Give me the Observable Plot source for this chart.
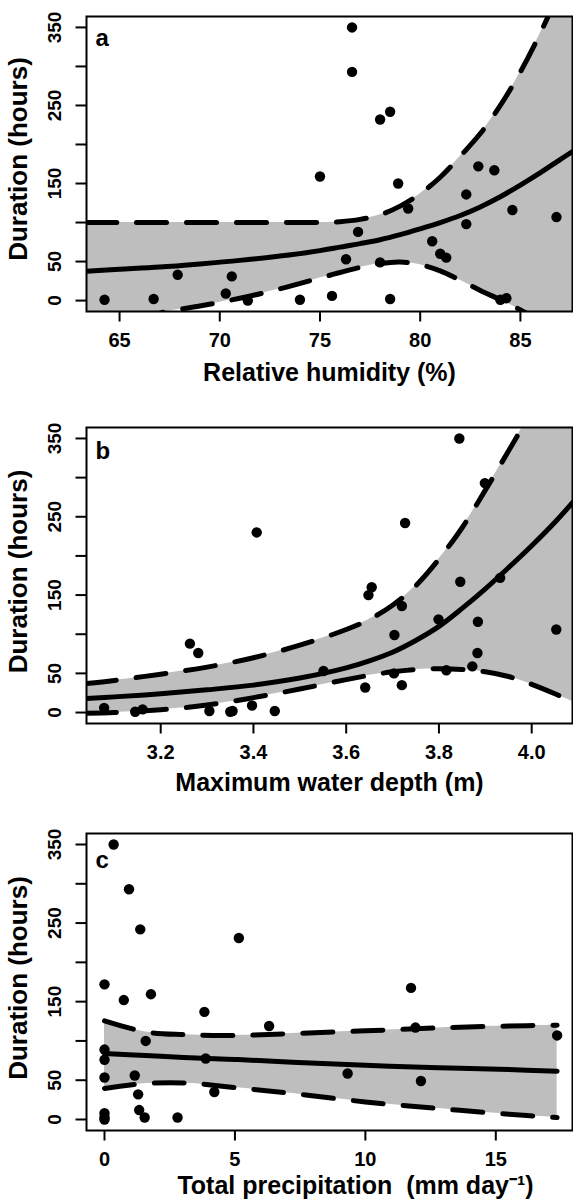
<!DOCTYPE html>
<html>
<head>
<meta charset="utf-8">
<script src="https://cdn.jsdelivr.net/npm/d3@7"></script>
<script src="https://cdn.jsdelivr.net/npm/@observablehq/plot@0.6"></script>
<style>
  html, body { margin: 0; padding: 0; background: #fff; }
  #chart { width: 573px; }
  #chart svg { display: block; }
  #chart [aria-label="x-axis tick"], #chart [aria-label="y-axis tick"] { stroke-width: 2px; }
  #chart [aria-label="x-axis"] .tick line, #chart [aria-label="y-axis"] .tick line { stroke-width: 2px; }
</style>
</head>
<body>
<div id="chart"></div>
<script>
// ---------- shared y axis ----------
const yTicks = [0, 50, 100, 150, 200, 250, 300, 350];
const yTickLabels = [0, 50, 150, 250, 350];
const yTitle = "Duration (hours)";

// ---------- panel a : relative humidity ----------
const rhTicks = [65, 70, 75, 80, 85];
const rhX = [64.25, 66.7, 67.9, 70.3, 70.6, 71.4, 74.0, 75.0, 75.6, 76.3, 76.6, 76.6, 76.9, 78.0, 78.0, 78.5, 78.5, 78.9, 79.4, 80.6, 81.0, 81.3, 82.3, 82.3, 82.9, 83.7, 84.0, 84.3, 84.6, 86.8];
const rhDur = [1, 2, 33, 9, 31, 0, 1, 159, 6, 53, 350, 293, 88, 232, 49, 242, 2, 150, 118, 76, 60, 55, 136, 98, 172, 167, 1, 3, 116, 107];
const rhCurveX = [63.35, 65, 67, 69, 71, 73, 75, 76, 77, 78, 79, 80, 81, 82, 83, 84, 85, 86, 87, 87.6];
const rhFit    = [37.5, 40, 43, 47, 51.5, 57, 64, 68.5, 73, 78, 84.5, 92, 100, 109, 120, 133, 148, 164, 181, 191];
const rhUpper  = [100, 100, 100, 100, 100, 100, 100, 101, 104, 110, 121, 137, 158, 185, 214, 250, 293, 343, 400, 437];
const rhLower  = [-45, -32, -16, -7, 3, 15, 29, 36, 42.5, 47.5, 49.5, 46, 38, 26, 13, 1, -12, -26, -42, -52];

// ---------- panel b : maximum water depth ----------
const depthTicks = [3.2, 3.4, 3.6, 3.8, 4.0];
const depthX = [3.078, 3.145, 3.161, 3.263, 3.281, 3.305, 3.35, 3.355, 3.397, 3.407, 3.446, 3.551, 3.641, 3.648, 3.655, 3.703, 3.704, 3.72, 3.72, 3.727, 3.799, 3.816, 3.844, 3.846, 3.872, 3.883, 3.884, 3.899, 3.932, 4.053];
const depthDur = [6, 1, 4, 88, 76, 2, 1, 2, 9, 230, 2, 53, 32, 150, 160, 50, 99, 35, 136, 242, 119, 54, 350, 167, 59, 76, 116, 293, 172, 106];
const depthCurveX = [3.04, 3.1, 3.2, 3.3, 3.4, 3.5, 3.6, 3.65, 3.7, 3.75, 3.8, 3.85, 3.9, 3.95, 4.0, 4.05, 4.088];
const depthFit    = [18, 20, 24, 29, 35, 44, 57, 66, 77, 92, 110, 133, 158, 185, 213, 243, 268];
const depthUpper  = [37, 41, 49, 58, 70, 86, 106, 119, 137, 162, 196, 236, 284, 334, 385, 438, 478];
const depthLower  = [-1, 0, 3.5, 9.5, 19, 30, 42, 47.5, 52, 55, 56, 55, 52, 46, 36, 24, 14];

// ---------- panel c : total precipitation ----------
const precipTicks = [0, 5, 10, 15];
const precipX = [0, 0, 0, 0, 0, 0, 0, 0.35, 0.74, 0.94, 1.16, 1.29, 1.33, 1.37, 1.54, 1.58, 1.78, 2.8, 3.83, 3.88, 4.21, 5.15, 6.31, 9.32, 11.75, 11.92, 12.13, 17.35];
const precipDur = [172, 89, 76, 53.5, 8, 3, 0, 350, 152, 293, 56, 32, 12, 242, 2.5, 100, 159.5, 2.5, 137, 77.6, 35, 231, 119, 58.5, 167.5, 117, 49, 107];
const precipCurveX = [0, 1.58, 3.03, 5, 7.2, 10, 12.8, 15.5, 17.35];
const precipFit    = [84, 81.5, 79, 76.4, 73, 69, 66, 63.5, 61.5];
const precipUpper  = [125.5, 111.5, 108, 107, 109.4, 112.8, 116.6, 119, 120];
const precipLower  = [39.5, 45.8, 46.6, 40.7, 33, 22.4, 14, 6.7, 2.5];

const FONT = "'Liberation Sans', Arial, Helvetica, sans-serif";
const CURVE = "catmull-rom";

function panel(o) {
  const curve = o.curveX.map((x, i) => ({x, fit: o.fit[i], lo: o.lower[i], hi: o.upper[i]}));
  const pts = o.ptsX.map((x, i) => ({x, y: o.ptsY[i]}));
  const dashed = {x: "x", stroke: "black", strokeWidth: 5, strokeDasharray: "30,20", strokeLinecap: "round", curve: CURVE, clip: true};
  return Plot.plot({
    width: 573,
    height: o.height,
    marginLeft: 86,
    marginRight: 1,
    marginTop: o.marginTop,
    marginBottom: o.marginBottom,
    style: {fontFamily: FONT, fontWeight: "bold", fontSize: "20px", color: "black", background: "white", overflow: "visible"},
    x: {domain: o.xDomain, ticks: o.xTicks, tickSize: 10.5, tickFormat: () => "", label: null},
    y: {domain: [-14, 364], ticks: yTicks, tickSize: 10.5, tickFormat: () => "", label: null},
    marks: [
      Plot.areaY(curve, {x: "x", y1: "lo", y2: "hi", fill: "#bebebe", curve: CURVE, clip: true}),
      Plot.line(curve, {...dashed, y: "hi"}),
      Plot.line(curve, {...dashed, y: "lo"}),
      Plot.line(curve, {x: "x", y: "fit", stroke: "black", strokeWidth: 5, strokeLinecap: "round", curve: CURVE, clip: true}),
      Plot.dot(pts, {x: "x", y: "y", r: 5.2, fill: "black", stroke: "none"}),
      Plot.frame({stroke: "black", strokeWidth: 2}),
      Plot.text(yTickLabels, {y: d => d, text: d => String(d), frameAnchor: "left", dx: -31.5, rotate: -90, textAnchor: "middle", lineAnchor: "middle", fontSize: 19, fontWeight: "bold", fill: "black"}),
      Plot.text(o.xTicks, {x: d => d, text: o.xTickFormat, frameAnchor: "bottom", dy: 35.5, lineAnchor: "bottom", textAnchor: "middle", fontSize: 20, fontWeight: "bold", fill: "black"}),
      Plot.text([o.xTitle], {text: d => d, frameAnchor: "bottom", dx: o.xTitleDx || 0, dy: o.xTitleDy, lineAnchor: "bottom", textAnchor: "middle", fontSize: 25, fontWeight: "bold", fill: "black"}),
      Plot.text([yTitle], {text: d => d, frameAnchor: "left", dx: -67.5, dy: o.yTitleDy, rotate: -90, textAnchor: "middle", lineAnchor: "middle", fontSize: 26, fontWeight: "bold", fill: "black"}),
      Plot.text([o.letter], {text: d => d, frameAnchor: "top-left", dx: 9, dy: o.letterDy, lineAnchor: "bottom", textAnchor: "start", fontSize: 24, fontWeight: "bold", fill: "black"})
    ]
  });
}

const chart = document.getElementById("chart");
chart.append(panel({
  height: 411, marginTop: 16, marginBottom: 100,
  xDomain: [63.35, 87.6], xTicks: rhTicks, xTickFormat: d => String(d),
  curveX: rhCurveX, fit: rhFit, upper: rhUpper, lower: rhLower,
  ptsX: rhX, ptsY: rhDur,
  letter: "a", letterDy: 29, xTitle: "Relative humidity (%)", xTitleDy: 69, yTitleDy: -5
}));
chart.append(panel({
  height: 406, marginTop: 16, marginBottom: 94,
  xDomain: [3.04, 4.088], xTicks: depthTicks, xTickFormat: d => d.toFixed(1),
  curveX: depthCurveX, fit: depthFit, upper: depthUpper, lower: depthLower,
  ptsX: depthX, ptsY: depthDur,
  letter: "b", letterDy: 31, xTitle: "Maximum water depth (m)", xTitleDy: 67, yTitleDy: -4
}));
chart.append(panel({
  height: 386, marginTop: 16, marginBottom: 73,
  xDomain: [-0.69, 17.94], xTicks: precipTicks, xTickFormat: d => String(d),
  curveX: precipCurveX, fit: precipFit, upper: precipUpper, lower: precipLower,
  ptsX: precipX, ptsY: precipDur,
  letter: "c", letterDy: 34, xTitle: "Total precipitation  (mm day\u207B\u00B9)", xTitleDx: 26, xTitleDy: 63, yTitleDy: -4
}));
</script>
</body>
</html>
